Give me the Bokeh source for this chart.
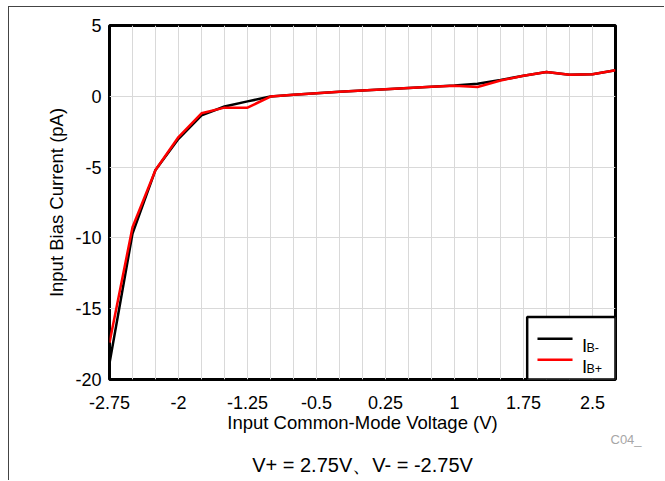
from bokeh.plotting import figure
from bokeh.models import FixedTicker, Range1d, NumeralTickFormatter, Title
from bokeh.core.properties import value
from bokeh.embed import file_html
from bokeh.resources import INLINE

# ---- data ----
vcm = [-2.75, -2.5, -2.25, -2.0, -1.75, -1.5, -1.25, -1.0, -0.75, -0.5, -0.25, 0.0,
       0.25, 0.5, 0.75, 1.0, 1.25, 1.5, 1.75, 2.0, 2.25, 2.5, 2.75]
ib_minus = [-18.85, -9.7, -5.2, -3.0, -1.35, -0.72, -0.36, -0.02, 0.11, 0.22, 0.32, 0.41,
            0.5, 0.59, 0.68, 0.77, 0.88, 1.15, 1.45, 1.72, 1.53, 1.55, 1.84]
ib_plus = [-17.4, -9.25, -5.2, -2.88, -1.2, -0.8, -0.8, -0.02, 0.11, 0.22, 0.32, 0.41,
           0.5, 0.59, 0.68, 0.75, 0.66, 1.12, 1.45, 1.72, 1.53, 1.55, 1.84]
series_labels = ["I", "I"]
series_subs = ["B-", "B+"]
series_colors = ["black", "#ff0000"]

x_ticks = [-2.75, -2.0, -1.25, -0.5, 0.25, 1.0, 1.75, 2.5]
x_tick_labels = ["-2.75", "-2", "-1.25", "-0.5", "0.25", "1", "1.75", "2.5"]
x_grid = vcm
y_ticks = [-20, -15, -10, -5, 0, 5]
y_tick_labels = ["-20", "-15", "-10", "-5", "0", "5"]

x_title = "Input Common-Mode Voltage (V)"
y_title = "Input Bias Current (pA)"
caption = "V+ = 2.75V\u3001V- = -2.75V"
code_text = "C04_"

FONT = "Liberation Sans"

# legend box geometry (data units of the fixed ranges)
LEG_X0, LEG_X1, LEG_TOP, LEG_BOT = 1.79, 2.75, -15.58, -20.0
LEG_LINE_X = [1.902, 2.283]
LEG_ROW_Y = [-17.12, -18.6]
LEG_TEXT_X, LEG_TEXT_Y = 2.385, [-17.59, -19.07]
LEG_SUB_X, LEG_SUB_Y = 2.435, [-17.75, -19.23]

W, H = 656, 474
p = figure(width=W, height=H, x_range=Range1d(-2.75, 2.75), y_range=Range1d(-20, 5),
           output_backend="svg", toolbar_location=None,
           min_border_left=100, min_border_right=50, min_border_top=18, min_border_bottom=100)
p.margin = (6, 0, 0, 8)
p.styles = {"border-top": "1px solid #444444", "border-left": "1px solid #444444"}

p.outline_line_color = "black"
p.outline_line_width = 3
p.background_fill_color = "white"
p.border_fill_color = "white"

# grids
p.xgrid.ticker = FixedTicker(ticks=x_grid)
p.ygrid.ticker = FixedTicker(ticks=y_ticks)
for g in (p.xgrid, p.ygrid):
    g.grid_line_color = "#d9d9d9"
    g.grid_line_width = 1

# axes
p.xaxis.ticker = FixedTicker(ticks=x_ticks)
p.xaxis.formatter = NumeralTickFormatter(format="0.[00]")
p.xaxis.major_label_overrides = dict(zip(x_ticks, x_tick_labels))
p.yaxis.ticker = FixedTicker(ticks=y_ticks)
p.yaxis.major_label_overrides = dict(zip(y_ticks, y_tick_labels))
for ax in (p.xaxis, p.yaxis):
    ax.axis_line_color = None
    ax.major_tick_line_color = None
    ax.minor_tick_line_color = None
    ax.major_tick_out = 0
    ax.major_tick_in = 0
    ax.major_label_text_font = FONT
    ax.major_label_text_font_size = "18px"
    ax.major_label_text_color = "black"
    ax.axis_label_text_font = FONT
    ax.axis_label_text_font_size = "18.5px"
    ax.axis_label_text_font_style = "normal"
    ax.axis_label_text_color = "black"
p.xaxis.axis_label = x_title
p.yaxis.axis_label = y_title
p.xaxis.major_label_standoff = 16
p.yaxis.major_label_standoff = 8
p.xaxis.axis_label_standoff = 0
p.yaxis.axis_label_standoff = 5

# data lines
for ys, c in zip([ib_minus, ib_plus], series_colors):
    p.line(vcm, ys, line_color=c, line_width=2.5)

# legend (drawn with glyphs so the subscripts can be placed)
p.quad(left=[LEG_X0], right=[LEG_X1], top=[LEG_TOP], bottom=[LEG_BOT],
       fill_color="white", line_color="black", line_width=2.5)
for yv, c in zip(LEG_ROW_Y, series_colors):
    p.line(LEG_LINE_X, [yv, yv], line_color=c, line_width=2.5)
p.text(x=[LEG_TEXT_X] * 2, y=LEG_TEXT_Y, text=series_labels, text_font=value(FONT),
       text_font_size="18.5px", text_baseline="alphabetic", text_align="left",
       text_color="black")
p.text(x=[LEG_SUB_X] * 2, y=LEG_SUB_Y, text=series_subs, text_font=value(FONT),
       text_font_size="12.5px", text_baseline="alphabetic", text_align="left",
       text_color="black")

# figure code, then caption, below the axis
p.add_layout(Title(text=code_text, align="left", offset=501, text_font=FONT,
                   text_font_size="13px", text_font_style="normal", text_color="#a6a6a6",
                   vertical_align="top", standoff=-7), "below")
p.add_layout(Title(text=caption, align="center", text_font=FONT, text_font_size="20px",
                   text_font_style="normal", text_color="black", standoff=12), "below")

open("out.html", "w").write(file_html(p, INLINE))
